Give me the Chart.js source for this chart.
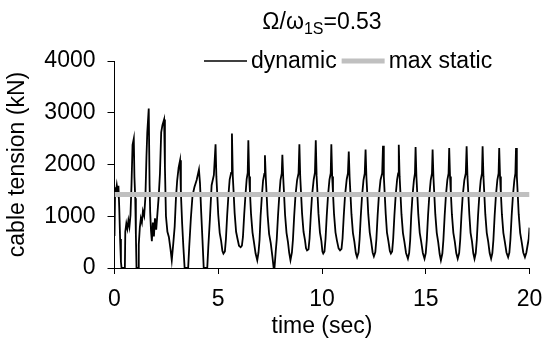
<!DOCTYPE html>
<html>
<head>
<meta charset="utf-8">
<script src="https://cdn.jsdelivr.net/npm/chart.js@4.4.1/dist/chart.umd.min.js"></script>
<style>
  html, body { margin: 0; padding: 0; background: #fff; }
  canvas { display: block; }
</style>
</head>
<body>
<canvas id="c" width="543" height="349"></canvas>
<script>
// Cable tension time history, Ω/ω1S = 0.53
const timeSec = [
  0.00, 0.03, 0.07, 0.11, 0.15, 0.19, 0.23, 0.27, 0.31, 0.34, 0.50,
  0.52, 0.57, 0.62, 0.67, 0.72, 0.77, 0.82, 0.87, 0.93,
  0.96, 1.00, 1.03, 1.06, 1.14, 1.17, 1.22, 1.27, 1.32, 1.37, 1.43, 1.49, 1.54, 1.58, 1.65,
  1.69, 1.72, 1.76, 1.80, 1.85, 1.90, 1.95, 2.01, 2.07, 2.13, 2.19, 2.25, 2.31, 2.39,
  2.43, 2.48, 2.55, 2.62, 2.70, 2.76, 2.83, 2.90, 2.96, 3.02, 3.09, 3.16,
  3.20, 3.26, 3.32, 3.38, 3.55, 3.60, 3.68, 3.76, 3.85, 3.96, 4.07,
  4.12, 4.18, 4.24, 4.30, 4.47, 4.52, 4.60, 4.68, 4.79, 4.87,
  4.91, 4.95, 5.00, 5.07, 5.14, 5.20, 5.25, 5.32, 5.37, 5.43, 5.49, 5.55, 5.62, 5.66,
  5.70, 5.74, 5.79, 5.86, 5.93, 6.00, 6.08, 6.14, 6.19, 6.25, 6.31, 6.37, 6.42, 6.45,
  6.49, 6.53, 6.58, 6.65, 6.72, 6.80, 6.88, 6.94, 6.99, 7.04, 7.10, 7.16, 7.22, 7.25,
  7.29, 7.33, 7.38, 7.45, 7.53, 7.61, 7.67, 7.71, 7.77, 7.82, 7.88, 7.94, 8.00, 8.06, 8.09,
  8.13, 8.17, 8.22, 8.29, 8.36, 8.42, 8.48, 8.55, 8.60, 8.66, 8.72, 8.80, 8.87, 8.91,
  8.95, 8.99, 9.04, 9.11, 9.18, 9.23, 9.28, 9.35, 9.40, 9.46, 9.52, 9.60, 9.66, 9.70,
  9.74, 9.78, 9.83, 9.90, 9.97, 10.02, 10.06, 10.12, 10.17, 10.23, 10.29, 10.36, 10.42, 10.45,
  10.49, 10.53, 10.58, 10.65, 10.72, 10.80, 10.87, 10.94, 10.99, 11.05, 11.11, 11.19, 11.25, 11.29,
  11.33, 11.37, 11.42, 11.49, 11.56, 11.63, 11.69, 11.76, 11.81, 11.87, 11.93, 12.00, 12.06, 12.10,
  12.14, 12.18, 12.23, 12.30, 12.37, 12.44, 12.50, 12.57, 12.62, 12.68, 12.74, 12.82, 12.90, 12.94,
  12.98, 13.02, 13.07, 13.13, 13.20, 13.27, 13.32, 13.38, 13.43, 13.49, 13.55, 13.62, 13.67, 13.70,
  13.74, 13.78, 13.83, 13.90, 13.97, 14.05, 14.14, 14.20, 14.25, 14.30, 14.36, 14.43, 14.48, 14.51,
  14.55, 14.59, 14.64, 14.71, 14.78, 14.86, 14.94, 15.00, 15.05, 15.11, 15.17, 15.24, 15.30, 15.33,
  15.37, 15.41, 15.46, 15.53, 15.60, 15.67, 15.73, 15.80, 15.85, 15.91, 15.97, 16.04, 16.10, 16.13,
  16.17, 16.21, 16.26, 16.33, 16.40, 16.47, 16.54, 16.61, 16.66, 16.72, 16.78, 16.86, 16.93, 16.97,
  17.01, 17.05, 17.10, 17.16, 17.23, 17.29, 17.35, 17.41, 17.46, 17.52, 17.58, 17.65, 17.71, 17.74,
  17.78, 17.82, 17.87, 17.94, 18.01, 18.08, 18.15, 18.21, 18.26, 18.32, 18.38, 18.45, 18.51, 18.54,
  18.58, 18.62, 18.67, 18.74, 18.81, 18.89, 18.97, 19.03, 19.08, 19.14, 19.20, 19.27, 19.32, 19.35,
  19.39, 19.43, 19.48, 19.55, 19.62, 19.70, 19.78, 19.85, 19.90, 19.96, 20.00
];

const dynamicKN = [
  620, 1560, 1470, 1600, 1480, 1590, 1150, 560, 120, 0, 0,
  700, 860, 760, 920, 800, 1020, 1620, 2380, 2500,
  1760, 1350, 650, 0, 0, 460, 780, 960, 880, 1100, 1010, 1380, 2150, 2620, 3080,
  1620, 1080, 720, 520, 880, 610, 960, 740, 1060, 1380, 1820, 2620, 2760, 2870,
  1950, 1000, 700, 600, 360, 150, 460, 800, 1340, 1690, 1940, 2080,
  1450, 860, 400, 0, 0, 400, 960, 1400, 1560, 1700, 1900,
  1640, 1060, 540, 0, 0, 400, 960, 1600, 1800, 2390,
  1760, 1440, 1030, 680, 520, 330, 280, 320, 560, 1020, 1400, 1710, 1840, 2600,
  1780, 1470, 1060, 700, 560, 430, 400, 430, 600, 1030, 1400, 1720, 1840, 2470,
  1770, 1450, 1040, 690, 500, 280, 150, 300, 540, 1000, 1380, 1690, 1820, 2180,
  1750, 1430, 1020, 660, 480, 220, 0, 0, 320, 560, 1010, 1390, 1700, 1830, 2190,
  1760, 1440, 1030, 680, 500, 290, 150, 300, 550, 1010, 1390, 1700, 1830, 2390,
  1770, 1450, 1050, 700, 540, 380, 340, 360, 570, 1020, 1400, 1710, 1840, 2470,
  1780, 1460, 1050, 690, 520, 320, 280, 320, 560, 1020, 1400, 1710, 1830, 2390,
  1770, 1450, 1040, 690, 530, 380, 340, 370, 570, 1020, 1400, 1710, 1830, 2250,
  1760, 1440, 1040, 680, 510, 290, 210, 300, 550, 1010, 1390, 1700, 1830, 2290,
  1760, 1450, 1040, 690, 510, 300, 225, 310, 550, 1010, 1390, 1700, 1830, 2360,
  1770, 1450, 1050, 690, 520, 330, 280, 320, 560, 1020, 1400, 1710, 1830, 2380,
  1770, 1450, 1040, 680, 510, 290, 180, 290, 540, 1010, 1390, 1700, 1830, 2340,
  1770, 1450, 1040, 680, 510, 290, 180, 290, 540, 1010, 1390, 1700, 1830, 2290,
  1760, 1440, 1040, 680, 500, 270, 150, 280, 540, 1000, 1390, 1700, 1830, 2320,
  1770, 1450, 1040, 680, 510, 290, 180, 290, 540, 1010, 1390, 1700, 1830, 2350,
  1770, 1450, 1040, 680, 510, 290, 180, 290, 540, 1010, 1390, 1700, 1830, 2350,
  1770, 1450, 1040, 680, 510, 290, 180, 290, 540, 1010, 1390, 1700, 1830, 2320,
  1770, 1450, 1040, 680, 510, 300, 210, 300, 550, 1010, 1390, 1700, 1830, 2320,
  1770, 1450, 1040, 680, 510, 300, 210, 300, 420, 560, 780
];

const maxStaticKN = 1420;
const staticSpanSec = [0, 20];

const xTickValues = [0, 5, 10, 15, 20];
const yTickValues = [0, 1000, 2000, 3000, 4000];

const FONT = 'Liberation Sans';
const FONT_SIZE = 23;
Chart.defaults.font.family = FONT;
Chart.defaults.font.size = FONT_SIZE;
Chart.defaults.color = '#000';

// Title with the subscripted frequency ratio, centred over the plot area
const ratioTitle = {
  id: 'ratioTitle',
  afterDraw(chart) {
    const { ctx, chartArea } = chart;
    const parts = [
      { text: 'Ω/ω', size: FONT_SIZE, dy: 0 },
      { text: '1S', size: 16, dy: 5 },
      { text: '=0.53', size: FONT_SIZE, dy: 0 }
    ];
    ctx.save();
    ctx.fillStyle = '#000';
    ctx.textBaseline = 'alphabetic';
    let total = 0;
    parts.forEach(p => { ctx.font = p.size + 'px "' + FONT + '"'; p.w = ctx.measureText(p.text).width; total += p.w; });
    let x = (chartArea.left + chartArea.right) / 2 - total / 2;
    const base = 29;
    parts.forEach(p => {
      ctx.font = p.size + 'px "' + FONT + '"';
      ctx.fillText(p.text, x, base + p.dy);
      x += p.w;
    });
    ctx.restore();
  }
};

// Legend drawn inside the top of the plot area
const inlineLegend = {
  id: 'inlineLegend',
  afterDraw(chart) {
    const { ctx } = chart;
    ctx.save();
    ctx.font = FONT_SIZE + 'px "' + FONT + '"';
    ctx.textBaseline = 'middle';
    ctx.fillStyle = '#000';
    let x = 204;
    const y = 61;
    chart.data.datasets.forEach(ds => {
      ctx.strokeStyle = ds.borderColor;
      ctx.lineWidth = ds.label === 'dynamic' ? 1.5 : ds.borderWidth;
      ctx.beginPath();
      ctx.moveTo(x, y);
      ctx.lineTo(x + 43, y);
      ctx.stroke();
      x += 47;
      ctx.fillText(ds.label, x, y + 1);
      x += ctx.measureText(ds.label).width + 5;
    });
    ctx.restore();
  }
};

new Chart(document.getElementById('c'), {
  type: 'line',
  data: {
    datasets: [
      {
        label: 'dynamic',
        data: timeSec.map((t, i) => ({ x: t, y: dynamicKN[i] })),
        borderColor: '#000',
        borderWidth: 1.8,
        pointRadius: 0,
        tension: 0,
        order: 2
      },
      {
        label: 'max static',
        data: staticSpanSec.map(t => ({ x: t, y: maxStaticKN })),
        borderColor: '#c0c0c0',
        borderWidth: 5,
        pointRadius: 0,
        order: 1
      }
    ]
  },
  options: {
    responsive: false,
    animation: false,
    layout: { padding: { left: 0, top: 61, right: 13.5, bottom: 0 } },
    plugins: { legend: { display: false }, tooltip: { enabled: false }, title: { display: false } },
    scales: {
      x: {
        type: 'linear',
        min: 0,
        max: 20,
        afterFit(scale) {
          scale.height = 81;
          scale.paddingLeft = 0;
          scale.paddingRight = 0;
        },
        afterBuildTicks(scale) { scale.ticks = xTickValues.map(v => ({ value: v })); },
        ticks: { padding: 12, callback: v => String(v), maxRotation: 0 },
        grid: { drawOnChartArea: false, drawTicks: true, tickLength: 6, tickColor: '#000', tickWidth: 1 },
        border: { display: true, color: '#000', width: 1 },
        title: { display: true, text: 'time (sec)', padding: { top: 0, bottom: 9 } }
      },
      y: {
        type: 'linear',
        min: 0,
        max: 4000,
        afterFit(scale) {
          scale.width = 114.5;
          scale.paddingTop = 0;
          scale.paddingBottom = 0;
        },
        afterBuildTicks(scale) { scale.ticks = yTickValues.map(v => ({ value: v })); },
        ticks: { padding: 12, callback: v => String(v) },
        grid: { drawOnChartArea: false, drawTicks: true, tickLength: 7, tickColor: '#000', tickWidth: 1 },
        border: { display: true, color: '#000', width: 1 },
        title: { display: true, text: 'cable tension (kN)', padding: { top: 4, bottom: 0 } }
      }
    }
  },
  plugins: [ratioTitle, inlineLegend]
});
</script>
</body>
</html>
